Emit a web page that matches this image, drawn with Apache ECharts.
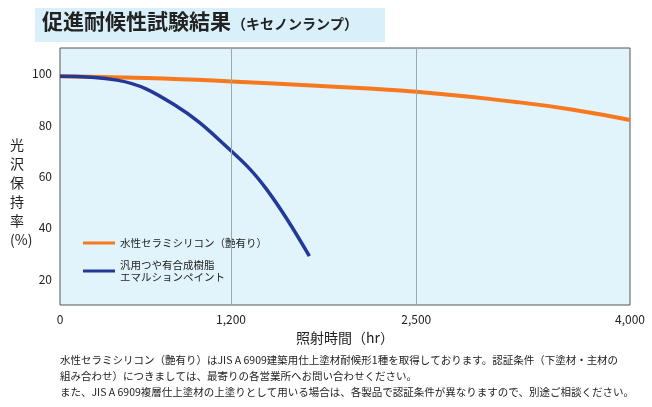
<!DOCTYPE html>
<html>
<head>
<meta charset="utf-8">
<script src="https://cdn.jsdelivr.net/npm/echarts@6/dist/echarts.min.js"></script>
<style>
  html, body { margin: 0; padding: 0; background: #fff; }
  #chart { width: 652px; height: 407px; }
</style>
</head>
<body>
<div id="chart"></div>
<script>
// 促進耐候性試験結果
const xTicks = [0, 1200, 2500, 4000];
const yTicks = [20, 40, 60, 80, 100];
const ceramicName = '水性セラミシリコン（艶有り）';
const ceramicData = [[0, 99], [600, 98.3], [1200, 97], [1800, 95.3], [2500, 93], [3200, 89], [3600, 86], [4000, 82]];
const genericName = '汎用つや有合成樹脂\nエマルションペイント';
const genericData = [[0, 99], [400, 97.5], [800, 88], [1200, 70], [1450, 55], [1750, 29]];

const chart = echarts.init(document.getElementById('chart'));
const font = '"Noto Sans CJK JP", sans-serif';

chart.setOption({
    animation: false,
    textStyle: { fontFamily: font },
    graphic: [
        { type: 'rect', left: 35, top: 8, shape: { width: 350, height: 34 }, style: { fill: '#d9f0fa' } },
        { type: 'text', left: 42, top: 11, style: { text: '促進耐候性試験結果', font: 'bold 21px ' + font, fill: '#222' } },
        { type: 'text', left: 232, top: 17, style: { text: '（キセノンランプ）', font: 'bold 14px ' + font, fill: '#222' } },
        { type: 'text', left: 10, top: 135, style: { text: '光\n沢\n保\n持\n率\n(%)', font: '14px ' + font, fill: '#222', lineHeight: 19 } },
        { type: 'text', left: 60, top: 352, style: {
            text: '水性セラミシリコン（艶有り）はJIS A 6909建築用仕上塗材耐候形1種を取得しております。認証条件（下塗材・主材の\n組み合わせ）につきましては、最寄りの各営業所へお問い合わせください。\nまた、JIS A 6909複層仕上塗材の上塗りとして用いる場合は、各製品で認証条件が異なりますので、別途ご相談ください。',
            font: '10.5px ' + font, fill: '#222', lineHeight: 16 } }
    ],
    grid: { left: 60, right: 22, top: 48, bottom: 102, show: true, backgroundColor: '#e1f4fc', borderColor: '#555', borderWidth: 1 },
    legend: {
        left: 78, top: 232, orient: 'vertical', itemWidth: 32, itemHeight: 3, itemGap: 10,
        icon: 'rect', textStyle: { fontSize: 10.5, color: '#222', lineHeight: 12 },
        data: [ceramicName, genericName]
    },
    xAxis: {
        type: 'value', min: 0, max: 4000, interval: 100,
        name: '照射時間（hr）', nameLocation: 'middle', nameGap: 26,
        nameTextStyle: { fontSize: 14, color: '#222' },
        axisLine: { show: false }, axisTick: { show: false }, splitLine: { show: false },
        axisLabel: { color: '#222', fontSize: 12, formatter: v => xTicks.includes(v) ? v.toLocaleString('en-US') : '' }
    },
    yAxis: {
        type: 'value', min: 10, max: 110, interval: 10,
        axisLine: { show: false }, axisTick: { show: false }, splitLine: { show: false },
        axisLabel: { color: '#222', fontSize: 12, formatter: v => yTicks.includes(v) ? v : '' }
    },
    series: [
        {
            name: ceramicName, type: 'line', smooth: true, symbol: 'none',
            lineStyle: { color: '#f7781f', width: 4 }, itemStyle: { color: '#f7781f' },
            data: ceramicData,
            markLine: {
                silent: true, symbol: 'none', label: { show: false },
                lineStyle: { color: '#9aa', width: 1, type: 'solid' },
                data: [{ xAxis: 1200 }, { xAxis: 2500 }]
            }
        },
        {
            name: genericName, type: 'line', smooth: 0.4, symbol: 'none',
            lineStyle: { color: '#23399a', width: 3.5 }, itemStyle: { color: '#23399a' },
            data: genericData
        }
    ]
});
</script>
</body>
</html>
